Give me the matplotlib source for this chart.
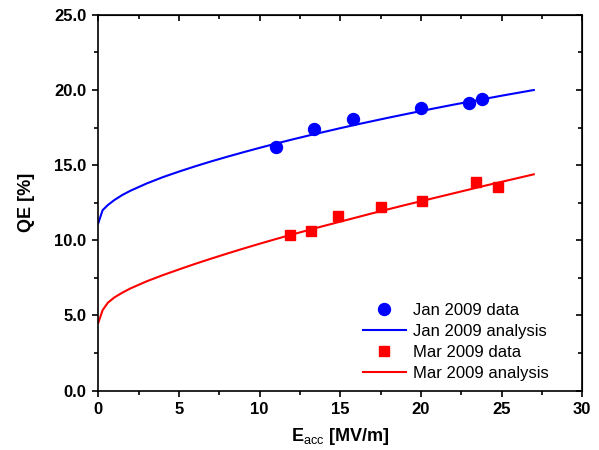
import numpy as np
import matplotlib
matplotlib.use('Agg')
import matplotlib.pyplot as plt
from matplotlib.ticker import MultipleLocator, FormatStrFormatter

plt.rcParams['font.family'] = ['Liberation Sans', 'DejaVu Sans']
plt.rcParams['mathtext.fontset'] = 'custom'
plt.rcParams['mathtext.rm'] = 'Liberation Sans'
plt.rcParams['mathtext.bf'] = 'Liberation Sans:bold'

# measured points
jan_x = [11.02, 13.40, 15.77, 20.00, 22.96, 23.78]
jan_y = [16.20, 17.40, 18.09, 18.82, 19.11, 19.41]
mar_x = [11.87, 13.21, 14.87, 17.55, 20.06, 23.43, 24.75]
mar_y = [10.35, 10.64, 11.62, 12.21, 12.61, 13.86, 13.56]

# analysis curves
fit_x = [0, 0.27, 0.6, 1, 1.5, 2, 3, 4, 5, 6, 7, 8, 9, 10, 11, 12, 13, 14,
         15, 16, 17, 18, 19, 20, 21, 22, 23, 24, 25, 26, 27]
jan_fit = [11.13, 12.00, 12.35, 12.68, 13.02, 13.30, 13.78, 14.20, 14.57, 14.92,
           15.25, 15.56, 15.86, 16.15, 16.43, 16.70, 16.96, 17.21, 17.46, 17.70,
           17.93, 18.16, 18.38, 18.60, 18.81, 19.02, 19.22, 19.42, 19.62, 19.81, 20.00]
mar_fit = [4.50, 5.35, 5.85, 6.20, 6.52, 6.80, 7.27, 7.68, 8.06, 8.43,
           8.78, 9.12, 9.45, 9.77, 10.08, 10.38, 10.67, 10.96, 11.24, 11.52,
           11.80, 12.07, 12.34, 12.60, 12.86, 13.12, 13.38, 13.64, 13.89, 14.14, 14.39]

fig = plt.figure(figsize=(5.99, 4.5), dpi=100)
ax = fig.add_axes([0.164, 0.132, 0.808, 0.835])

ax.plot(jan_x, jan_y, 'o', color='#0000FF', markersize=8.6, label='Jan 2009 data')
ax.plot(fit_x, jan_fit, '-', color='#0000FF', lw=1.5, label='Jan 2009 analysis')
ax.plot(mar_x, mar_y, 's', color='#FF0000', markersize=7.5, label='Mar 2009 data')
ax.plot(fit_x, mar_fit, '-', color='#FF0000', lw=1.5, label='Mar 2009 analysis')

ax.set_xlim(0, 30)
ax.set_ylim(0, 25)
ax.xaxis.set_major_locator(MultipleLocator(5))
ax.xaxis.set_minor_locator(MultipleLocator(2.5))
ax.yaxis.set_major_locator(MultipleLocator(5))
ax.yaxis.set_minor_locator(MultipleLocator(2.5))
ax.yaxis.set_major_formatter(FormatStrFormatter('%.1f'))

for s in ax.spines.values():
    s.set_linewidth(1.2)
ax.tick_params(which='both', direction='out', width=1.2, labelsize=12, pad=4)
ax.tick_params(which='major', length=4.5)
ax.tick_params(which='minor', length=3)
for lab in ax.get_xticklabels() + ax.get_yticklabels():
    lab.set_fontweight('bold')

top = ax.secondary_xaxis('top')
top.xaxis.set_major_locator(MultipleLocator(5))
top.xaxis.set_minor_locator(MultipleLocator(2.5))
top.tick_params(which='both', direction='in', width=1.2, labeltop=False)
top.tick_params(which='major', length=4.5)
top.tick_params(which='minor', length=3)
right = ax.secondary_yaxis('right')
right.yaxis.set_major_locator(MultipleLocator(5))
right.yaxis.set_minor_locator(MultipleLocator(2.5))
right.tick_params(which='both', direction='in', width=1.2, labelright=False)
right.tick_params(which='major', length=4.5)
right.tick_params(which='minor', length=3)

ax.set_xlabel(r'$\mathbf{E}_{\mathrm{acc}}$ [MV/m]', fontsize=13, fontweight='bold', labelpad=6)
ax.set_ylabel('QE [%]', fontsize=13, fontweight='bold', labelpad=14)

ax.legend(loc='lower right', bbox_to_anchor=(0.93, 0.025), frameon=False, fontsize=12,
          handlelength=2.6, handletextpad=0.4, borderpad=0, borderaxespad=0,
          labelspacing=0.36, numpoints=1)

fig.savefig('out.png', dpi=100)
